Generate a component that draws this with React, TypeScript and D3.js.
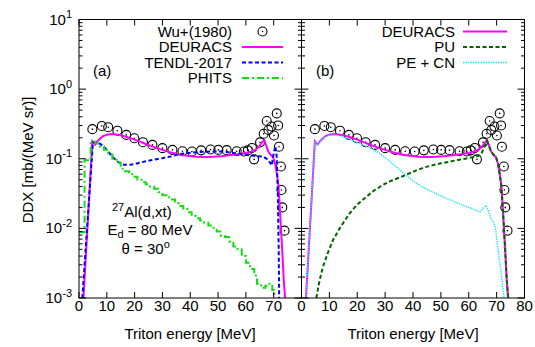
import React from 'react';
import * as d3 from 'd3';

// ---------- data ----------
const wuE = [4.8, 8.2, 10.5, 13.8, 17.0, 19.9, 23.0, 26.4, 30.0, 33.6, 37.2, 40.6, 43.9, 47.3, 50.1, 53.1, 56.7, 59.3, 60.7, 62.2, 62.95, 65.1, 66.4, 67.5, 68.1, 69.2, 70.1, 71.1, 71.6, 71.9, 72.6, 72.8, 73.1, 73.9];
const wuV = [0.266, 0.296, 0.284, 0.253, 0.22, 0.197, 0.173, 0.158, 0.142, 0.134, 0.128, 0.127, 0.132, 0.136, 0.134, 0.133, 0.128, 0.127, 0.132, 0.143, 0.098, 0.172, 0.229, 0.349, 0.259, 0.291, 0.216, 0.448, 0.301, 0.149, 0.0775, 0.0356, 0.02, 0.00927];

const deuE = [1.6, 4.8, 5.8, 7, 8.5, 10, 12, 14, 16, 18, 20, 22, 24, 26, 28, 30, 33, 36, 39, 42, 45, 48, 51, 54, 57, 60, 62, 63.5, 64.8, 65.8, 66.6, 67.3, 68, 69, 69.8, 70.5, 71.1, 71.7, 72.3, 73, 73.6, 74.1, 74.6];
const deuV = [0.001, 0.178, 0.16, 0.185, 0.21, 0.222, 0.226, 0.222, 0.212, 0.2, 0.188, 0.175, 0.163, 0.152, 0.142, 0.134, 0.123, 0.115, 0.11, 0.107, 0.106, 0.107, 0.109, 0.112, 0.116, 0.121, 0.127, 0.135, 0.15, 0.172, 0.185, 0.155, 0.128, 0.113, 0.105, 0.085, 0.062, 0.042, 0.017, 0.0055, 0.0019, 0.001, 0.0005];

const tendlE = [1.2, 5, 6.5, 8, 9.6, 12, 14, 16, 18, 20, 22, 24, 27, 30, 33, 36, 39, 42, 45, 48, 51, 54, 57, 60, 63, 66.3, 68.1, 69.3, 70.0, 70.6, 71.1, 71.5, 71.8, 72.0];
const tendlV = [0.001, 0.172, 0.175, 0.16, 0.14, 0.107, 0.09, 0.082, 0.0815, 0.084, 0.088, 0.092, 0.097, 0.102, 0.108, 0.116, 0.121, 0.124, 0.126, 0.127, 0.127, 0.124, 0.119, 0.114, 0.11, 0.107, 0.096, 0.08, 0.12, 0.152, 0.105, 0.03, 0.005, 0.0008];

const phitsE = [0, 2.0, 4.2, 6.0, 7.5, 9.0, 10.5, 12.0, 13.5, 15.0, 16.5, 18.0, 19.5, 21.0, 22.5, 24.0, 25.5, 27.0, 28.5, 30.0, 31.5, 33.0, 34.5, 36.0, 37.5, 39.0, 40.5, 42.0, 43.5, 45.0, 46.5, 48.0, 49.5, 51.0, 52.5, 54.0, 55.5, 57.0, 58.5, 60.0, 61.5, 63.0, 64.0, 65.5, 67.0, 68.5, 69.5, 70.2];
const phitsV = [0.0088, 0.095, 0.175, 0.165, 0.15, 0.135, 0.115, 0.1, 0.088, 0.072, 0.066, 0.06, 0.055, 0.05, 0.046, 0.043, 0.04, 0.037, 0.033, 0.03, 0.028, 0.026, 0.023, 0.021, 0.019, 0.017, 0.015, 0.014, 0.013, 0.012, 0.011, 0.0102, 0.009, 0.0078, 0.0075, 0.0065, 0.0055, 0.005, 0.004, 0.0032, 0.0026, 0.0021, 0.0016, 0.0014, 0.0015, 0.0016, 0.0013, 0.0004];

const puE = [5.3, 6.5, 7.7, 9.5, 11.3, 14, 17.3, 20, 23.3, 26, 29.2, 32, 35.3, 38, 41.2, 44, 47.2, 50, 53.2, 56, 59.2, 62, 63.5, 64.5, 65.5, 66.5, 67.3, 68, 69, 69.8, 70.5, 71.1, 71.7, 72.3, 73, 73.6, 74.2, 74.7];
const puV = [0.001, 0.0018, 0.0028, 0.0045, 0.0068, 0.0105, 0.0165, 0.022, 0.0285, 0.035, 0.042, 0.048, 0.054, 0.06, 0.068, 0.075, 0.081, 0.086, 0.091, 0.096, 0.101, 0.106, 0.11, 0.118, 0.145, 0.18, 0.15, 0.127, 0.112, 0.104, 0.085, 0.06, 0.04, 0.017, 0.0055, 0.0019, 0.001, 0.0005];

const pecnE = [1.6, 4.8, 5.8, 7, 8.5, 10, 12, 14, 16, 18, 20, 22, 24, 28, 32, 36, 40, 44, 48, 52, 56, 60, 63, 64, 65, 66.2, 67.2, 68, 69, 69.6, 70.5, 71.5, 72.7, 73.2];
const pecnV = [0.001, 0.176, 0.158, 0.183, 0.207, 0.218, 0.22, 0.213, 0.2, 0.185, 0.17, 0.158, 0.148, 0.12, 0.09, 0.065, 0.048, 0.038, 0.032, 0.027, 0.023, 0.02, 0.018, 0.0172, 0.019, 0.0215, 0.017, 0.0135, 0.012, 0.01, 0.005, 0.0025, 0.001, 0.0006];

const xTicks = [0, 10, 20, 30, 40, 50, 60, 70, 80];
const yDecades = [-3, -2, -1, 0, 1];

// ---------- layout ----------
const W = 535, H = 347;
const TOP = 19.5, BOT = 298;
const FONT = '"Liberation Sans", Arial, Helvetica, sans-serif';

const y = d3.scaleLog().domain([1e-3, 10]).range([BOT, TOP]);

const zip = (a: number[], b: number[]) => a.map((v, i) => [v, b[i]] as [number, number]);

function Circles({ x, E, V }: any) {
  return (
    <g>
      {E.map((e: number, i: number) => (
        <g key={i}>
          <circle cx={x(e)} cy={y(V[i])} r={4.5} fill="none" stroke="#000" strokeWidth={1.1} />
          <circle cx={x(e)} cy={y(V[i])} r={0.8} fill="#000" />
        </g>
      ))}
    </g>
  );
}

function Frame({ x0, x1, x, labels, leftLabels }: any) {
  const els: any[] = [];
  xTicks.forEach((t) => {
    const px = x(t);
    els.push(<line key={'xb' + t} x1={px} x2={px} y1={BOT} y2={BOT - 6} stroke="#000" strokeWidth={1} />);
    els.push(<line key={'xt' + t} x1={px} x2={px} y1={TOP} y2={TOP + 6} stroke="#000" strokeWidth={1} />);
    if (labels.includes(t)) {
      els.push(
        <text key={'xl' + t} x={px} y={310.5} textAnchor="middle" fontSize={15} fontFamily={FONT}>{t}</text>
      );
    }
  });
  yDecades.forEach((d) => {
    const v = Math.pow(10, d);
    const py = y(v);
    els.push(<line key={'yl' + d} x1={x0} x2={x0 + 7} y1={py} y2={py} stroke="#000" strokeWidth={1} />);
    els.push(<line key={'yr' + d} x1={x1} x2={x1 - 7} y1={py} y2={py} stroke="#000" strokeWidth={1} />);
    if (d < 1) {
      for (let m = 2; m <= 9; m++) {
        const pm = y(m * v);
        els.push(<line key={'ml' + d + m} x1={x0} x2={x0 + 3.5} y1={pm} y2={pm} stroke="#000" strokeWidth={1} />);
        els.push(<line key={'mr' + d + m} x1={x1} x2={x1 - 3.5} y1={pm} y2={pm} stroke="#000" strokeWidth={1} />);
      }
    }
    if (leftLabels) {
      els.push(
        <text key={'ylab' + d} x={72} y={py + 5} textAnchor="end" fontSize={15} fontFamily={FONT}>
          10<tspan dy={-6.5} fontSize={11}>{String(d)}</tspan>
        </text>
      );
    }
  });
  els.push(<rect key="frame" x={x0} y={TOP} width={x1 - x0} height={BOT - TOP} fill="none" stroke="#000" strokeWidth={1} />);
  return <g>{els}</g>;
}

function LegendRow({ tx, sx0, sx1, cy, label, stroke, dash, width, marker }: any) {
  return (
    <g>
      <text x={tx} y={cy + 5.3} textAnchor="end" fontSize={15} fontFamily={FONT}>{label}</text>
      {marker ? (
        <g>
          <circle cx={(sx0 + sx1) / 2} cy={cy} r={4.5} fill="none" stroke="#000" strokeWidth={1.1} />
          <circle cx={(sx0 + sx1) / 2} cy={cy} r={0.8} fill="#000" />
        </g>
      ) : (
        <line x1={sx0} x2={sx1} y1={cy} y2={cy} stroke={stroke} strokeWidth={width} strokeDasharray={dash} />
      )}
    </g>
  );
}

export default function App() {
  const xa = d3.scaleLinear().domain([0, 80]).range([79, 301.5]);
  const xb = d3.scaleLinear().domain([0, 80]).range([301.5, 524.5]);

  const mk = (x: any, curve: any = d3.curveLinear) =>
    d3.line<[number, number]>().x((d) => x(d[0])).y((d) => y(d[1])).curve(curve);

  const la = mk(xa);
  const lb = mk(xb);
  const stepA = mk(xa, d3.curveStepAfter);

  const MAG = '#ff00ff';
  const BLUE = '#0000ff';
  const GREEN = '#11dd11';
  const DKGREEN = '#006400';
  const CYAN = '#22e6f6';

  return (
    <svg width={W} height={H} style={{ position: 'absolute', left: 0, top: 0, background: '#fff' }}>
      <defs>
        <clipPath id="ca"><rect x={79} y={TOP} width={222.5} height={BOT - TOP} /></clipPath>
        <clipPath id="cb"><rect x={301.5} y={TOP} width={223} height={BOT - TOP} /></clipPath>
      </defs>
      <rect x={0} y={0} width={W} height={H} fill="#fff" />

      <g clipPath="url(#ca)">
        <Circles x={xa} E={wuE} V={wuV} />
        <path d={la(zip(deuE, deuV)) || ''} fill="none" stroke={MAG} strokeWidth={2} />
        <path d={la(zip(tendlE, tendlV)) || ''} fill="none" stroke={BLUE} strokeWidth={2} strokeDasharray="4,2.5" />
        <path d={stepA(zip(phitsE, phitsV)) || ''} fill="none" stroke={GREEN} strokeWidth={2} strokeDasharray="7,3,2,3" />
      </g>
      <Frame x0={79} x1={301.5} x={xa} labels={[0, 10, 20, 30, 40, 50, 60, 70]} leftLabels={true} />

      <g clipPath="url(#cb)">
        <Circles x={xb} E={wuE} V={wuV} />
        <path d={lb(zip(deuE, deuV)) || ''} fill="none" stroke={MAG} strokeWidth={2} />
        <path d={lb(zip(puE, puV)) || ''} fill="none" stroke={DKGREEN} strokeWidth={2} strokeDasharray="4,2.5" />
        <path d={lb(zip(pecnE, pecnV)) || ''} fill="none" stroke={CYAN} strokeWidth={1.4} strokeDasharray="1.5,1" />
      </g>
      <Frame x0={301.5} x1={524.5} x={xb} labels={[0, 10, 20, 30, 40, 50, 60, 70, 80]} leftLabels={false} />

      <LegendRow tx={232} sx0={242} sx1={283} cy={31.5} label="Wu+(1980)" marker />
      <LegendRow tx={232} sx0={242} sx1={283} cy={47} label="DEURACS" stroke={MAG} width={2} />
      <LegendRow tx={232} sx0={242} sx1={283} cy={62.5} label="TENDL-2017" stroke={BLUE} width={2} dash="4,2.5" />
      <LegendRow tx={232} sx0={242} sx1={283} cy={78} label="PHITS" stroke={GREEN} width={2} dash="7,3,2,3" />

      <LegendRow tx={455} sx0={463} sx1={507} cy={31.5} label="DEURACS" stroke={MAG} width={2} />
      <LegendRow tx={455} sx0={463} sx1={507} cy={47} label="PU" stroke={DKGREEN} width={2} dash="4,2.5" />
      <LegendRow tx={455} sx0={463} sx1={507} cy={62.5} label="PE + CN" stroke={CYAN} width={1.4} dash="1.5,1" />

      <text x={93} y={75.5} fontSize={15} fontFamily={FONT}>(a)</text>
      <text x={316} y={75.5} fontSize={15} fontFamily={FONT}>(b)</text>

      <text x={112} y={217} fontSize={15} fontFamily={FONT}>
        <tspan fontSize={11} dy={-6}>27</tspan><tspan dy={6}>Al(d,xt)</tspan>
      </text>
      <text x={107.5} y={235} fontSize={15} fontFamily={FONT}>
        E<tspan fontSize={11} dy={3}>d</tspan><tspan dy={-3}> = 80 MeV</tspan>
      </text>
      <text x={121.5} y={254} fontSize={15} fontFamily={FONT}>
        θ = 30<tspan fontSize={11} dy={-6}>o</tspan>
      </text>

      <text x={190} y={339} textAnchor="middle" fontSize={15} fontFamily={FONT}>Triton energy [MeV]</text>
      <text x={413} y={339} textAnchor="middle" fontSize={15} fontFamily={FONT}>Triton energy [MeV]</text>
      <text transform="translate(33,160) rotate(-90)" textAnchor="middle" fontSize={15} fontFamily={FONT}>DDX [mb/(MeV sr)]</text>
    </svg>
  );
}
